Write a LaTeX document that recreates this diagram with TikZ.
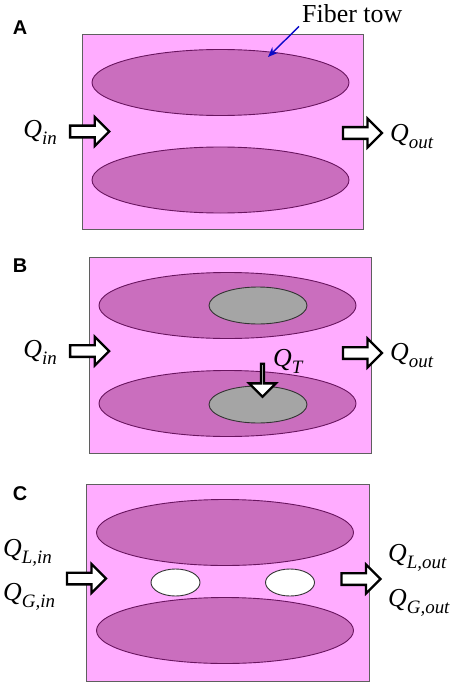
\documentclass[tikz,border=0pt]{standalone}
\usepackage{fontspec}
\setmainfont{Liberation Serif}
\setsansfont{Liberation Sans}
\usetikzlibrary{arrows.meta,positioning,shapes.geometric,shapes.arrows}
\definecolor{cellpink}{RGB}{255,172,255}
\definecolor{cellgray}{RGB}{95,95,95}
\definecolor{towpurple}{RGB}{202,110,190}
\definecolor{towedge}{RGB}{105,20,95}
\definecolor{coregray}{RGB}{165,165,165}
\definecolor{arrowblue}{RGB}{10,10,200}

% flow rate symbol, Q with a lowered italic index
\newcommand{\flowq}[1]{\textit{Q}\raisebox{-0.27em}{\fontsize{19}{21}\selectfont\textit{#1}}}

\tikzset{
  cell/.style={rectangle, draw=cellgray, fill=cellpink, line width=0.9bp, inner sep=0pt},
  tow/.style={ellipse, draw=towedge, fill=towpurple, line width=0.9bp, inner sep=0pt,
    minimum width=257bp, minimum height=66bp},
  core/.style={ellipse, draw=black!80, fill=coregray, line width=0.9bp, inner sep=0pt,
    minimum width=98bp, minimum height=37bp},
  bubble/.style={ellipse, draw=black!80, fill=white, line width=0.9bp, inner sep=0pt,
    minimum width=49bp, minimum height=27bp},
  flow/.style={single arrow, draw=black, fill=white, line width=2.3bp, inner sep=0pt,
    inner ysep=4.7bp, minimum height=39bp, minimum width=26.8bp,
    single arrow head extend=8.6bp},
  qlabel/.style={font=\fontsize{26}{30}\selectfont, inner sep=0pt},
  panel/.style={font=\sffamily\bfseries\fontsize{20}{22}\selectfont, inner sep=0pt},
}

\begin{document}
\begin{tikzpicture}[x=1bp,y=-1bp]
  \useasboundingbox (0,0) rectangle (457,686);

  % Panel A
  \node[panel] (pa) at (20,28) {A};
  \node[cell, minimum width=281bp, minimum height=195bp] (acell) at (222.5,131.5) {};
  \node[tow] (atop) at (220.5,82.5) {};
  \node[tow] (abot) at (220.5,180) {};
  \node[flow] (ain) at (86.7,131.5) {};
  \node[flow] (aout) at (359.5,133) {};
  \node[qlabel, anchor=east] (qain) at (57,132) {\flowq{in}};
  \node[qlabel, anchor=west] (qaout) at (390,137) {\flowq{out}};
  \node[qlabel, anchor=base west] (fibertow) at (302,23) {Fiber tow};
  \coordinate (towhit) at (268,57);
  \draw[arrowblue, line width=1.4bp, -{Stealth[length=10bp,width=8bp]}]
    ([xshift=-3bp,yshift=-3bp]fibertow.south west) -- (towhit);

  % Panel B
  \node[panel] (pb) at (20,266) {B};
  \node[cell, minimum width=282bp, minimum height=196bp] (bcell) at (230,355) {};
  \node[tow] (btop) at (227.5,305.5) {};
  \node[tow] (bbot) at (227.5,403.5) {};
  \node[core] (btopcore) at (258,305.5) {};
  \node[core] (bbotcore) at (258,404.5) {};
  \node[flow] (bin) at (86.7,351) {};
  \node[flow] (bout) at (359.5,353) {};
  \node[flow, shape border rotate=270, minimum height=33bp] (bt) at (262.5,379.5) {};
  \node[qlabel, anchor=east] (qbin) at (57,352) {\flowq{in}};
  \node[qlabel, anchor=west] (qbout) at (390,356) {\flowq{out}};
  \node[qlabel, anchor=west] (qbt) at (273,361) {\flowq{T}};

  % Panel C
  \node[panel] (pc) at (20,494) {C};
  \node[cell, minimum width=283bp, minimum height=197bp] (ccell) at (227.5,582.5) {};
  \node[tow] (ctop) at (225,532.5) {};
  \node[tow] (cbot) at (225,630.5) {};
  \node[bubble] (cbl) at (175.5,582.5) {};
  \node[bubble] (cbr) at (290,582.5) {};
  \node[flow] (cin) at (83.5,578.5) {};
  \node[flow] (cout) at (358,579) {};
  \node[qlabel, anchor=west] (qlin) at (3,553) {\flowq{L,in}};
  \node[qlabel, anchor=west] (qgin) at (3,597) {\flowq{G,in}};
  \node[qlabel, anchor=west] (qlout) at (388,558) {\flowq{L,out}};
  \node[qlabel, anchor=west] (qgout) at (388,603) {\flowq{G,out}};
\end{tikzpicture}
\end{document}
